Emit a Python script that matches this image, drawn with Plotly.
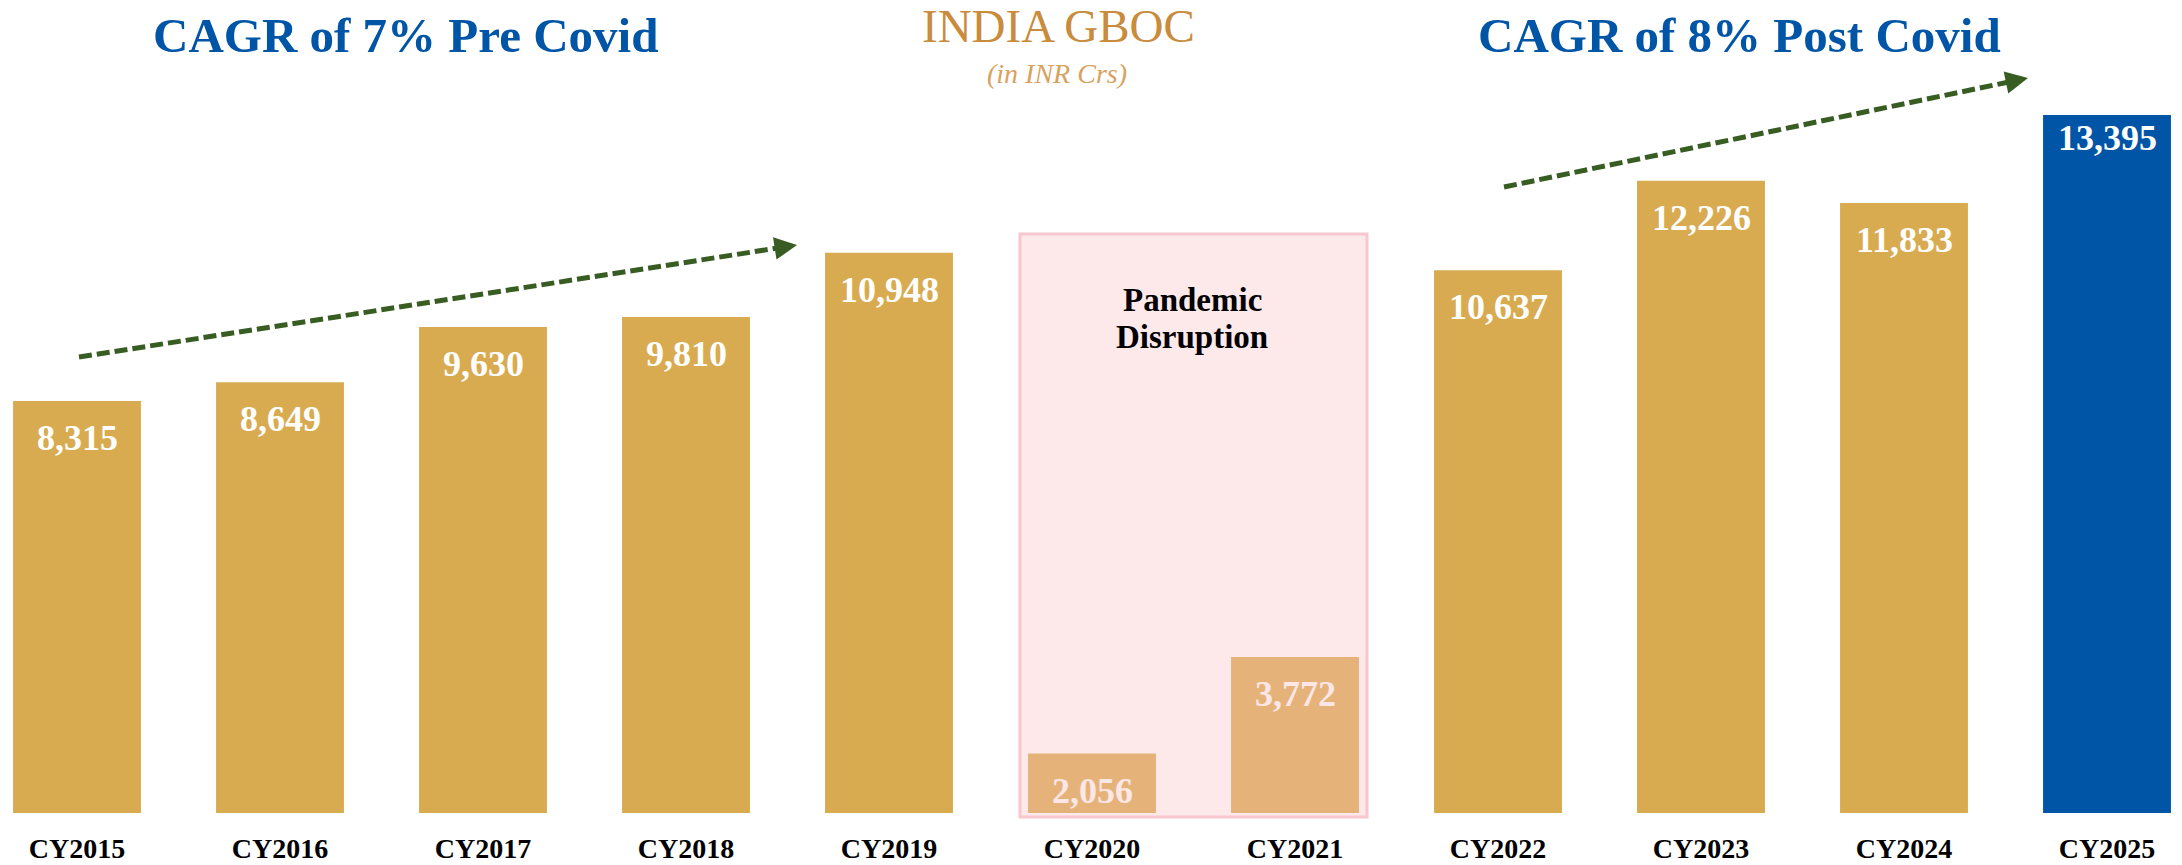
import plotly.graph_objects as go

# ---- data ----
categories = ["CY2015", "CY2016", "CY2017", "CY2018", "CY2019", "CY2020",
              "CY2021", "CY2022", "CY2023", "CY2024", "CY2025"]
gboc_values = [8315, 8649, 9630, 9810, 10948, 2056, 3772, 10637, 12226, 11833, 13395]
pandemic_years = ["CY2020", "CY2021"]
highlight_year = "CY2025"

title_left = "CAGR of 7% Pre Covid"
title_right = "CAGR of 8% Post Covid"
title_center = "INDIA GBOC"
subtitle_center = "(in INR Crs)"
pandemic_label = ["Pandemic", "Disruption"]

# ---- style / layout ----
W, H = 2182, 865
MB = 52                      # bottom margin -> plot area 0..813 px
PH = H - MB
FONT = "Liberation Serif"
GOLD = "#D9AB50"
PANDEMIC = "#E5B37A"
BLUE = "#0055A6"
GREEN = "#385D23"
Y_MIN = 1000
PX_PER_UNIT = 0.056313
Y_MAX = Y_MIN + PH / PX_PER_UNIT
STEP = 203.0                 # px between category centres
X0 = 77.0                    # px of first category centre


def px_x(px):
    return px / W


def px_y(py):
    return (PH - py) / PH


colors = [BLUE if c == highlight_year else (PANDEMIC if c in pandemic_years else GOLD)
          for c in categories]

fig = go.Figure()
fig.add_trace(go.Bar(x=categories, y=gboc_values, marker_color=colors,
                     marker_line_width=0, width=0.63, hoverinfo="x+y"))

annotations = []
for c, v in zip(categories, gboc_values):
    txt_color = "#FCE6E6" if c in pandemic_years else "white"
    shift = -1 if c == highlight_year else -15
    annotations.append(dict(x=c, y=v, xref="x", yref="y", text=f"<b>{v:,}</b>", showarrow=False,
                            yanchor="top", yshift=shift,
                            font=dict(family=FONT, size=36, color=txt_color)))

# titles
annotations += [
    dict(x=px_x(405), y=px_y(36), xref="paper", yref="paper", text=f"<b>{title_left}</b>",
         showarrow=False, xanchor="center", yanchor="middle",
         font=dict(family=FONT, size=49, color=BLUE)),
    dict(x=px_x(1739), y=px_y(36), xref="paper", yref="paper", text=f"<b>{title_right}</b>",
         showarrow=False, xanchor="center", yanchor="middle",
         font=dict(family=FONT, size=49, color=BLUE)),
    dict(x=px_x(1058), y=px_y(26), xref="paper", yref="paper", text=title_center,
         showarrow=False, xanchor="center", yanchor="middle",
         font=dict(family=FONT, size=47, color="#C98B3C")),
    dict(x=px_x(1057), y=px_y(74), xref="paper", yref="paper", text=f"<i>{subtitle_center}</i>",
         showarrow=False, xanchor="center", yanchor="middle",
         font=dict(family=FONT, size=28, color="#D9A15E")),
    dict(x=px_x(1192), y=px_y(300), xref="paper", yref="paper", text=f"<b>{pandemic_label[0]}</b>",
         showarrow=False, xanchor="center", yanchor="middle",
         font=dict(family=FONT, size=33, color="black")),
    dict(x=px_x(1192), y=px_y(337), xref="paper", yref="paper", text=f"<b>{pandemic_label[1]}</b>",
         showarrow=False, xanchor="center", yanchor="middle",
         font=dict(family=FONT, size=33, color="black")),
]

shapes = [
    dict(type="rect", xref="paper", yref="paper", layer="below",
         x0=px_x(1020), x1=px_x(1367), y0=px_y(817), y1=px_y(234),
         fillcolor="#FDE8EA", line=dict(color="#F8C6CD", width=3)),
]

# dashed trend arrows
for (sx, sy), (tx, ty) in [((79, 357), (797, 245)), ((1504, 187), (2028, 78))]:
    dx, dy = tx - sx, ty - sy
    L = (dx ** 2 + dy ** 2) ** 0.5
    ux, uy = dx / L, dy / L
    ex, ey = tx - 12 * ux, ty - 12 * uy
    shapes.append(dict(type="line", xref="paper", yref="paper",
                       x0=px_x(sx), y0=px_y(sy), x1=px_x(ex), y1=px_y(ey),
                       line=dict(color=GREEN, width=5, dash="13px,5px")))
    annotations.append(dict(x=px_x(tx), y=px_y(ty), xref="paper", yref="paper",
                            ax=-14 * ux, ay=-14 * uy, axref="pixel", ayref="pixel",
                            text="", showarrow=True, arrowhead=2, arrowsize=0.9,
                            arrowwidth=5, arrowcolor=GREEN))

fig.update_layout(
    width=W, height=H,
    margin=dict(l=0, r=0, t=0, b=MB, pad=0),
    paper_bgcolor="white", plot_bgcolor="rgba(0,0,0,0)",
    showlegend=False,
    annotations=annotations, shapes=shapes,
    xaxis=dict(type="category", range=[-X0 / STEP, (W - X0) / STEP], showgrid=False,
               zeroline=False, showline=False, ticks="", automargin=False,
               ticklabelstandoff=16,
               tickfont=dict(family=FONT, size=28, color="black"),
               tickvals=categories, ticktext=[f"<b>{c}</b>" for c in categories]),
    yaxis=dict(range=[Y_MIN, Y_MAX], visible=False, showgrid=False, zeroline=False,
               automargin=False),
)

fig.write_html("out.html", config={"displayModeBar": False},
               post_script="document.body.style.margin='0';document.body.style.overflow='hidden';")
